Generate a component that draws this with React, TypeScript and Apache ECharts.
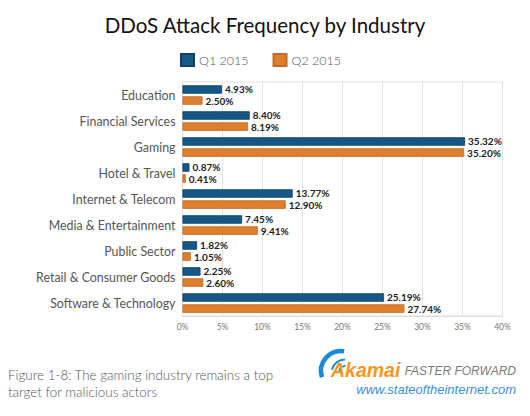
import React, { useEffect, useRef } from "react";
import * as echarts from "echarts";

const categories = [
  "Education",
  "Financial Services",
  "Gaming",
  "Hotel & Travel",
  "Internet & Telecom",
  "Media & Entertainment",
  "Public Sector",
  "Retail & Consumer Goods",
  "Software & Technology",
];
const q1Values = [4.93, 8.4, 35.32, 0.87, 13.77, 7.45, 1.82, 2.25, 25.19];
const q2Values = [2.5, 8.19, 35.2, 0.41, 12.9, 9.41, 1.05, 2.6, 27.74];
const seriesNames = ["Q1 2015", "Q2 2015"];
const xTicks = { min: 0, max: 40, interval: 5 };
const titleText = "DDoS Attack Frequency by Industry";
const captionLines = [
  "Figure 1-8: The gaming industry remains a top",
  "target for malicious actors",
];

export default function App() {
  const ref = useRef<HTMLDivElement>(null);
  useEffect(() => {
    if (!ref.current) return;
    const chart = echarts.init(ref.current, null, { renderer: "svg" });
    const labelStyle = {
      show: true,
      position: "right",
      distance: 3,
      fontFamily: "Lato",
      fontSize: 10,
      fontWeight: "bold",
      color: "#222",
      formatter: (p: any) => p.value.toFixed(2) + "%",
    };
    chart.setOption({
      animation: false,
      backgroundColor: "#fff",
      title: {
        text: titleText,
        left: "center",
        top: 9,
        textStyle: { fontFamily: "Lato", fontSize: 20.5, fontWeight: "normal", color: "#111" },
      },
      legend: {
        left: 180,
        top: 53,
        padding: 0,
        itemWidth: 13,
        itemHeight: 12,
        itemGap: 24,
        icon: "rect",
        textStyle: { fontFamily: "Lato", fontSize: 12.5, fontWeight: 300, color: "#555" },
        data: seriesNames,
      },
      grid: {
        left: 182.5,
        right: 27.5,
        top: 82,
        height: 234,
        containLabel: false,
        show: true,
        borderColor: "#e2e2e2",
        borderWidth: 1,
      },
      xAxis: {
        type: "value",
        min: xTicks.min,
        max: xTicks.max,
        interval: xTicks.interval,
        axisLabel: {
          formatter: "{value}%",
          fontFamily: "Lato",
          fontSize: 8.5,
          color: "#777",
          margin: 6,
        },
        axisLine: { show: true, lineStyle: { color: "#ddd" } },
        axisTick: { show: false },
        splitLine: { show: true, lineStyle: { color: "#e2e2e2", width: 1 } },
      },
      yAxis: {
        type: "category",
        inverse: true,
        data: categories,
        axisLabel: { fontFamily: "Lato", fontSize: 12.4, color: "#555", margin: 7 },
        axisLine: { show: true, lineStyle: { color: "#ddd" } },
        axisTick: { show: false },
      },
      series: [
        {
          name: seriesNames[0],
          type: "bar",
          data: q1Values,
          barWidth: 8.5,
          barGap: "30%",
          itemStyle: { color: "#155785", borderColor: "#0c3f66", borderWidth: 0.8 },
          label: labelStyle,
        },
        {
          name: seriesNames[1],
          type: "bar",
          data: q2Values,
          barWidth: 8.5,
          barGap: "30%",
          itemStyle: { color: "#de7f2e", borderColor: "#c56a20", borderWidth: 0.8 },
          label: labelStyle,
        },
      ],
      graphic: [
        {
          type: "text",
          left: 8,
          top: 366,
          style: {
            text: captionLines.join("\n"),
            fontFamily: "Lato",
            fontSize: 13.4,
            fontWeight: 300,
            lineHeight: 17,
            fill: "#555",
          },
        },
        {
          type: "arc",
          shape: { cx: 341, cy: 371, r: 20, startAngle: Math.PI * 0.9, endAngle: Math.PI * 1.55, clockwise: true },
          style: { stroke: "#1a8ad4", lineWidth: 4.5, fill: null },
        },
        {
          type: "arc",
          shape: { cx: 345, cy: 373, r: 13.5, startAngle: Math.PI * 1.08, endAngle: Math.PI * 1.5, clockwise: true },
          style: { stroke: "#1a8ad4", lineWidth: 2, fill: null },
        },
        {
          type: "arc",
          shape: { cx: 347, cy: 374, r: 8.5, startAngle: Math.PI * 1.12, endAngle: Math.PI * 1.45, clockwise: true },
          style: { stroke: "#1a8ad4", lineWidth: 1.8, fill: null },
        },
        {
          type: "text",
          x: 331,
          y: 370,
          style: {
            text: "Akamai",
            fontFamily: "Liberation Sans",
            fontSize: 19.5,
            fontWeight: "bold",
            fontStyle: "italic",
            fill: "#f5961e",
            textVerticalAlign: "middle",
          },
        },
        {
          type: "text",
          x: 516,
          y: 371,
          style: {
            text: "FASTER FORWARD",
            fontFamily: "Liberation Sans",
            fontSize: 12,
            fontStyle: "italic",
            fill: "#7a7a7a",
            textAlign: "right",
            textVerticalAlign: "middle",
          },
        },
        {
          type: "text",
          x: 516,
          y: 389,
          style: {
            text: "www.stateoftheinternet.com",
            fontFamily: "Liberation Sans",
            fontSize: 13,
            fontStyle: "italic",
            fill: "#3a8fd6",
            textAlign: "right",
            textVerticalAlign: "middle",
          },
        },
      ],
    });
    return () => chart.dispose();
  }, []);
  return (
    <div
      ref={ref}
      style={{ position: "fixed", left: 0, top: 0, width: 530, height: 416, background: "#fff" }}
    />
  );
}
